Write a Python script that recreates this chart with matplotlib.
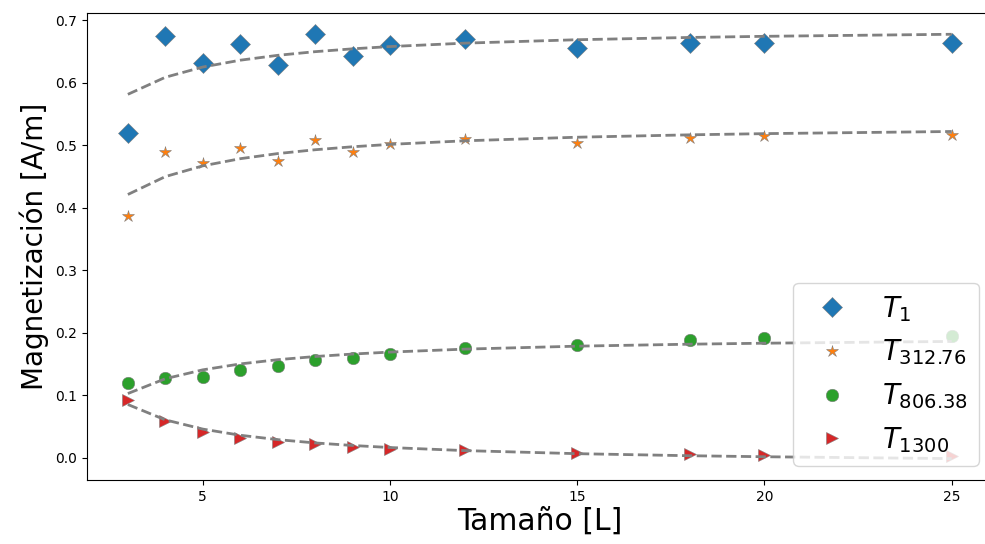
import numpy as np
import matplotlib
matplotlib.use("Agg")
import matplotlib.pyplot as plt

# Tamaños de red
L = np.array([3, 4, 5, 6, 7, 8, 9, 10, 12, 15, 18, 20, 25])

# Magnetización por temperatura
m_T1 = [0.520, 0.675, 0.632, 0.661, 0.628, 0.677, 0.643, 0.660, 0.669, 0.655, 0.663, 0.664, 0.664]
m_T312 = [0.386, 0.489, 0.471, 0.495, 0.475, 0.508, 0.489, 0.502, 0.510, 0.504, 0.512, 0.514, 0.516]
m_T806 = [0.119, 0.127, 0.129, 0.141, 0.147, 0.157, 0.160, 0.166, 0.176, 0.181, 0.189, 0.192, 0.195]
m_T1300 = [0.093, 0.059, 0.042, 0.032, 0.025, 0.022, 0.018, 0.015, 0.013, 0.0085, 0.0064, 0.0040, 0.0030]

labels = [r"$T_{1}$", r"$T_{312.76}$", r"$T_{806.38}$", r"$T_{1300}$"]
series = [m_T1, m_T312, m_T806, m_T1300]
markers = ["D", "*", "o", ">"]
sizes = [10, 9, 9, 9]
colors = ["tab:blue", "tab:orange", "tab:green", "tab:red"]

fig, ax = plt.subplots(figsize=(9.85, 5.44), dpi=100)
fig.subplots_adjust(left=0.088, right=1.008, bottom=0.118, top=0.976)

for m, lab, mk, ms, c in zip(series, labels, markers, sizes, colors):
    m = np.array(m)
    ax.plot(L, m, linestyle="none", marker=mk, markersize=ms, color=c,
            markeredgecolor="gray", markeredgewidth=0.4, label=lab)
    # ajuste m = a + b/L
    b, a = np.polyfit(1.0 / L, m, 1)
    ax.plot(L, a + b / L, "--", color="gray", linewidth=2)

ax.set_xlabel("Tamaño [L]", fontsize=21.5, labelpad=2)
ax.set_ylabel("Magnetización [A/m]", fontsize=20)
ax.set_xticks([5, 10, 15, 20, 25])
ax.spines["right"].set_visible(False)
ax.legend(loc="lower right", fontsize=20)

plt.savefig("out.png", dpi=100)
